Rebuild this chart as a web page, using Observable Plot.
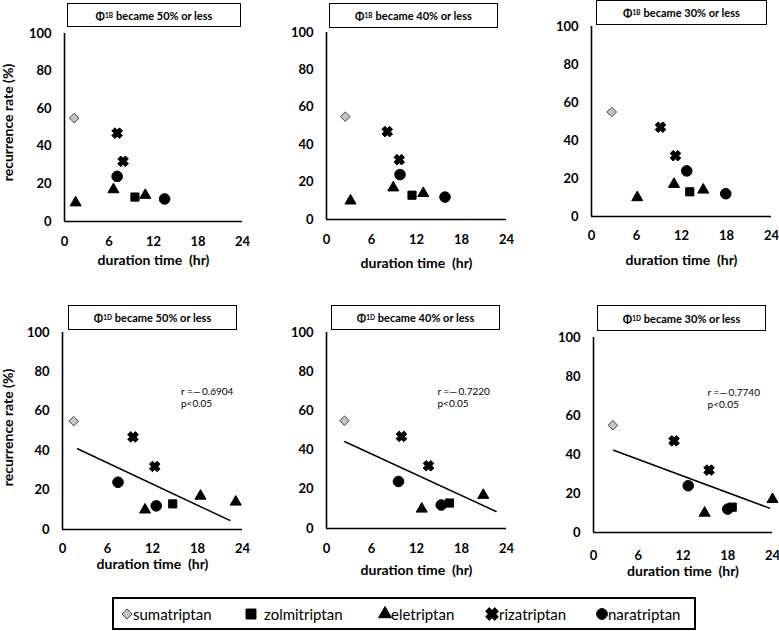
<!DOCTYPE html>
<html><head><meta charset="utf-8">
<script src="https://cdn.jsdelivr.net/npm/d3@7"></script>
<script src="https://cdn.jsdelivr.net/npm/@observablehq/plot@0.6"></script>
<style>
body{margin:0;background:#fff;font-family:Lato,"Open Sans",sans-serif;}
#root{position:relative;width:779px;height:631px;overflow:hidden;background:#fff;}
.ttl{position:absolute;box-sizing:border-box;border:1.5px solid #000;display:flex;align-items:center;justify-content:center;font-weight:bold;font-size:11px;color:#000;white-space:nowrap;}
.ttl sub{font-size:6.5px;vertical-align:-2px;margin-right:3px;}
.pnl{position:absolute;}
#legend{position:absolute;box-sizing:border-box;border:2px solid #000;font-size:15px;color:#000;}
.li{position:absolute;top:0;height:100%;display:flex;align-items:center;}
</style></head><body><div id="root"></div>
<script>
// ---- data ----
const drugs = ["sumatriptan","zolmitriptan","eletriptan","eletriptan","eletriptan","rizatriptan","rizatriptan","naratriptan","naratriptan"];
const recurrence = [55, 13, 10, 17, 14, 47, 32, 24, 12];
// duration time (hr) for each point, per panel (null = beyond 24 h, not drawn)
const durB50 = [1.3, 9.5, 1.5, 6.6, 10.9, 7.1, 7.9, 7.1, 13.5];
const durB40 = [2.5, 11.4, 3.2, 8.9, 12.9, 8.1, 9.7, 9.8, 15.8];
const durB30 = [2.7, 13.1, 6.1, 11.0, 14.9, 9.2, 11.2, 12.7, 17.9];
const durD50 = [1.5, 14.7, 11.0, 18.4, 23.1, 9.4, 12.3, 7.4, 12.5];
const durD40 = [2.4, 16.4, 12.7, 20.9, null, 10.0, 13.6, 9.6, 15.3];
const durD30 = [2.6, 18.6, 14.9, 24.0, null, 10.8, 15.5, 12.7, 18.0];
// regression lines (end points)
const trendD50X = [2.0, 22.3], trendD50Y = [41.0, 4.6];
const trendD40X = [2.4, 22.6], trendD40Y = [44.4, 8.7];
const trendD30X = [2.7, 23.6], trendD30Y = [42.2, 12.5];
const rLabels = [null, null, null, "r =\u2014\u20090.6904", "r =\u2014\u20090.7220", "r =\u2014\u20090.7740"];
const pLabel = "p<0.05";
const titleSub = ["1B","1B","1B","1D","1D","1D"];
const titlePct = ["50%","40%","30%","50%","40%","30%"];
const xTicks = [0, 6, 12, 18, 24];
const yTicks = [0, 20, 40, 60, 80, 100];
const xLabel = "duration time \u00a0(hr)";
const yLabel = "recurrence rate (%)";
const legendNames = ["sumatriptan","zolmitriptan","eletriptan","rizatriptan","naratriptan"];

// ---- styles / layout ----
const symbolX = {draw(ctx, size){
  const r = Math.sqrt(size / Math.PI), a = r * 0.4, L = r * Math.SQRT2 - a;
  const pts = [[a,-L],[a,-a],[L,-a],[L,a],[a,a],[a,L],[-a,L],[-a,a],[-L,a],[-L,-a],[-a,-a],[-a,-L]]
    .map(([x,y]) => [(x - y) / Math.SQRT2, (x + y) / Math.SQRT2]);
  ctx.moveTo(pts[0][0], pts[0][1]);
  for (let i = 1; i < pts.length; i++) ctx.lineTo(pts[i][0], pts[i][1]);
  ctx.closePath();
}};
const drugStyle = {
  sumatriptan:  {symbol: d3.symbolDiamond2, r: 4.3, fill: "#c4c4c4", stroke: "#444", lr: 4.6},
  zolmitriptan: {symbol: d3.symbolSquare,   r: 4.6, fill: "#000", stroke: "#000", lr: 5.6},
  eletriptan:   {symbol: d3.symbolTriangle, r: 4.1, fill: "#000", stroke: "#000", lr: 4.8},
  rizatriptan:  {symbol: symbolX,           r: 5.3, fill: "#000", stroke: "#000", lr: 6.4},
  naratriptan:  {symbol: d3.symbolCircle,   r: 5.3, fill: "#000", stroke: "#000", lr: 5.4}
};
const layout = [
  {left:0,   top:0,   w:260, h:290, fx0:64,  fx1:242, fy0:33,  fy1:221, tickC:241, labC:260, ylabY:122, title:[67,3,174,24]},
  {left:260, top:0,   w:260, h:290, fx0:326, fx1:506, fy0:32,  fy1:219, tickC:239, labC:263, title:[329,3,169,25]},
  {left:520, top:0,   w:259, h:290, fx0:591, fx1:771, fy0:26,  fy1:216, tickC:235, labC:260, title:[596,0,171,25]},
  {left:0,   top:290, w:260, h:300, fx0:62,  fx1:242, fy0:332, fy1:529, tickC:548, labC:564, ylabY:427, title:[68,305,169,25], note:[15.8,67]},
  {left:260, top:290, w:260, h:300, fx0:326, fx1:506, fy0:332, fy1:528, tickC:548, labC:570, title:[331,305,169,25], note:[14.8,67]},
  {left:520, top:290, w:259, h:300, fx0:593, fx1:772, fy0:337, fy1:532, tickC:555, labC:571, title:[597,305,169,26], note:[15.3,69]}
];
const durations = [durB50, durB40, durB30, durD50, durD40, durD30];
const trends = [null, null, null, [trendD50X, trendD50Y], [trendD40X, trendD40Y], [trendD30X, trendD30Y]];
const FONT = "Lato, 'Open Sans', sans-serif";

const root = document.getElementById("root");

layout.forEach((L, i) => {
  const rows = drugs.map((d, k) => ({drug: d, x: durations[i][k], y: recurrence[k]})).filter(r => r.x != null);
  const marks = [
    Plot.ruleY([0], {stroke: "#000", strokeWidth: 1.6}),
    Plot.ruleX([0], {stroke: "#000", strokeWidth: 1.6}),
    Plot.axisX({ticks: xTicks, tickSize: 0, tickPadding: L.tickC - L.fy1 - 4.7, label: null, tickFormat: d => d, fontSize: 13, fontWeight: "bold"}),
    Plot.axisY({ticks: yTicks, tickSize: 0, tickPadding: 13, label: null, tickFormat: d => d, fontSize: 13, fontWeight: "bold"}),
    Plot.text([xLabel], {text: d => d, frameAnchor: "bottom", lineAnchor: "middle", textAnchor: "middle", dy: L.labC - L.fy1, fontSize: 14, fontWeight: "bold"})
  ];
  if (L.ylabY != null) {
    marks.push(Plot.text([yLabel], {text: d => d, frameAnchor: "left", textAnchor: "middle", lineAnchor: "middle", rotate: -90,
      dx: 8 - L.fx0, dy: L.ylabY - (L.fy0 + L.fy1) / 2, fontSize: 14, fontWeight: "bold"}));
  }
  if (trends[i]) {
    const [tx, ty] = trends[i];
    marks.push(Plot.line(tx.map((x, k) => ({x, y: ty[k]})), {x: "x", y: "y", stroke: "#000", strokeWidth: 1.5}));
    marks.push(Plot.text([rLabels[i] + "\n" + pLabel], {x: () => L.note[0], y: () => L.note[1], text: d => d,
      textAnchor: "start", fontWeight: "normal", fontSize: 10, lineHeight: 1.2}));
  }
  for (const name of legendNames) {
    const s = drugStyle[name];
    marks.push(Plot.dot(rows.filter(r => r.drug === name), {x: "x", y: "y", symbol: s.symbol, r: s.r, fill: s.fill, stroke: s.stroke, strokeWidth: 1}));
  }
  const svg = Plot.plot({
    width: L.w, height: L.h,
    marginLeft: L.fx0 - L.left, marginRight: L.left + L.w - L.fx1,
    marginTop: L.fy0 - L.top, marginBottom: L.top + L.h - L.fy1,
    x: {domain: [0, 24]}, y: {domain: [0, 100]},
    style: {fontFamily: FONT, fontSize: "13px", fontWeight: "bold", color: "#000", background: "transparent", overflow: "visible"},
    marks
  });
  svg.classList.add("pnl");
  svg.style.left = L.left + "px"; svg.style.top = L.top + "px";
  root.appendChild(svg);
  const t = document.createElement("div");
  t.className = "ttl";
  const [tl, tt, tw, th] = L.title;
  Object.assign(t.style, {left: tl + "px", top: tt + "px", width: tw + "px", height: th + "px"});
  t.innerHTML = "\u03A6<sub>" + titleSub[i] + "</sub>became " + titlePct[i] + " or less";
  root.appendChild(t);
});

// legend
const legend = document.createElement("div");
legend.id = "legend";
Object.assign(legend.style, {left: "112px", top: "597px", width: "584px", height: "33px"});
const legendPos = [[125, 131], [249, 262], [383, 389], [490, 497], [600, 606]];
legendNames.forEach((name, k) => {
  const s = drugStyle[name];
  const item = document.createElement("div");
  item.className = "li";
  const [cx, tx] = legendPos[k];
  item.style.left = (cx - 112 - 8) + "px";
  const path = d3.symbol(s.symbol, Math.PI * s.lr * s.lr)();
  item.innerHTML = `<svg width="16" height="16" viewBox="-8 -8 16 16" style="overflow:visible"><path d="${path}" fill="${s.fill}" stroke="${s.stroke}" stroke-width="1"/></svg>` +
    `<span style="margin-left:${tx - cx - 8}px">${name}</span>`;
  legend.appendChild(item);
});
root.appendChild(legend);
</script>
</body></html>
